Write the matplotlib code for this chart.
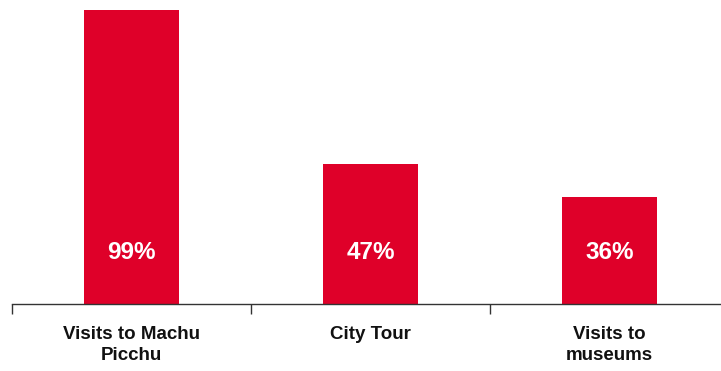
import matplotlib.pyplot as plt
import numpy as np

plt.rcParams['font.family'] = ['Liberation Sans', 'DejaVu Sans']

categories = ['Visits to Machu\nPicchu', 'City Tour', 'Visits to\nmuseums']
values = [99, 47, 36]
labels = ['99%', '47%', '36%']

fig = plt.figure(figsize=(7.21, 3.71), dpi=100)
ax = fig.add_axes([12 / 721, 67 / 371, 709 / 721, 304 / 371])

x = np.arange(len(categories))
ax.bar(x, values, width=0.4, color='#DF0029', zorder=2)

for xi, lab in zip(x, labels):
    ax.text(xi, 17.5, lab, color='white', fontsize=17.5, fontweight='bold',
            ha='center', va='center', zorder=3)

ax.set_xlim(-0.5, 2.466)
ax.set_ylim(0, 102.4)

# boundary ticks below the baseline, category names at the bar centres
ax.set_xticks([-0.5, 0.5, 1.5])
ax.set_xticklabels([])
ax.tick_params(axis='x', which='major', direction='out', length=7, width=1, color='#333333')
ax.set_xticks(x, minor=True)
ax.set_xticklabels(categories, minor=True, fontsize=13.5, fontweight='bold',
                   linespacing=1.3)
ax.tick_params(axis='x', which='minor', length=0, pad=16, labelcolor='#111111')

ax.set_yticks([])
for side in ['top', 'right', 'left']:
    ax.spines[side].set_visible(False)
ax.spines['bottom'].set_color('#333333')
ax.spines['bottom'].set_linewidth(1)

fig.savefig('out.png', dpi=100)
